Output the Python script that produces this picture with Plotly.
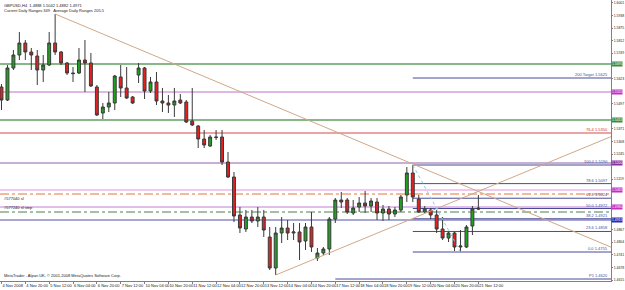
import plotly.graph_objects as go

# ---------------- data (GBPUSD H4) ----------------
bar_index = list(range(81))
open_ = [1.5580,1.5515,1.5675,1.5740,1.5800,1.5755,1.5735,1.5665,1.5690,1.5800,
         1.5755,1.5700,1.5650,1.5650,1.5715,1.5700,1.5580,1.5450,1.5480,1.5500,
         1.5630,1.5575,1.5530,1.5640,1.5675,1.5560,1.5605,1.5510,1.5500,1.5490,
         1.5515,1.5505,1.5410,1.5385,1.5320,1.5285,1.5330,1.5330,1.5205,1.5130,
         1.4940,1.4870,1.4930,1.4910,1.4930,1.4830,1.4675,1.4850,1.4875,1.4850,
         1.4855,1.4810,1.4880,1.4725,1.4750,1.4770,1.4920,1.5015,1.5015,1.4950,
         1.4980,1.5000,1.4985,1.5005,1.4950,1.4970,1.4945,1.4965,1.5040,1.5150,
         1.5020,1.4955,1.4965,1.4940,1.4870,1.4825,1.4850,1.4780,1.4780,1.4885,
         1.4975]
high = [1.5595,1.5690,1.5765,1.5855,1.5815,1.5775,1.5765,1.5740,1.5855,1.5945,
        1.5760,1.5705,1.5680,1.5775,1.5815,1.5750,1.5590,1.5500,1.5555,1.5640,
        1.5690,1.5680,1.5535,1.5700,1.5680,1.5630,1.5655,1.5575,1.5540,1.5575,
        1.5545,1.5515,1.5575,1.5390,1.5365,1.5340,1.5365,1.5365,1.5255,1.5155,
        1.4980,1.4965,1.4965,1.4980,1.4965,1.4880,1.4880,1.4930,1.4915,1.4900,
        1.4900,1.4900,1.4955,1.4775,1.4780,1.4930,1.5025,1.5055,1.5025,1.5015,
        1.5030,1.5060,1.5025,1.5025,1.4990,1.4985,1.4980,1.5040,1.5180,1.5190,
        1.5040,1.4985,1.4975,1.4965,1.4930,1.4855,1.4855,1.4865,1.4890,1.4985,
        1.5040]
low = [1.5465,1.5510,1.5665,1.5715,1.5715,1.5665,1.5590,1.5605,1.5685,1.5740,
       1.5690,1.5640,1.5605,1.5645,1.5555,1.5580,1.5435,1.5420,1.5455,1.5465,
       1.5530,1.5520,1.5495,1.5600,1.5520,1.5550,1.5490,1.5455,1.5450,1.5430,
       1.5495,1.5400,1.5385,1.5275,1.5275,1.5280,1.5315,1.5190,1.5125,1.4905,
       1.4850,1.4855,1.4900,1.4880,1.4830,1.4665,1.4640,1.4800,1.4815,1.4815,
       1.4715,1.4765,1.4755,1.4710,1.4740,1.4740,1.4900,1.4975,1.4945,1.4940,
       1.4955,1.4950,1.4955,1.4915,1.4910,1.4915,1.4930,1.4955,1.5005,1.5005,
       1.4950,1.4950,1.4920,1.4850,1.4815,1.4805,1.4760,1.4755,1.4775,1.4840,
       1.4965]
close = [1.5515,1.5675,1.5740,1.5800,1.5755,1.5740,1.5665,1.5690,1.5800,1.5755,
         1.5700,1.5650,1.5647,1.5715,1.5700,1.5585,1.5440,1.5480,1.5500,1.5635,
         1.5575,1.5525,1.5500,1.5675,1.5560,1.5605,1.5510,1.5500,1.5490,1.5510,
         1.5500,1.5405,1.5390,1.5320,1.5290,1.5330,1.5328,1.5205,1.5130,1.4935,
         1.4875,1.4930,1.4910,1.4930,1.4865,1.4675,1.4850,1.4875,1.4850,1.4855,
         1.4805,1.4880,1.4780,1.4750,1.4770,1.4920,1.5015,1.5005,1.4955,1.4975,
         1.5000,1.4985,1.5010,1.4950,1.4970,1.4945,1.4965,1.5030,1.5150,1.5030,
         1.4955,1.4970,1.4940,1.4870,1.4825,1.4850,1.4780,1.4785,1.4880,1.4970,
         1.4970]

tick_pos = list(range(0, 81, 4))
tick_text = ["4 Nov 2008","4 Nov 20:00","5 Nov 12:00","6 Nov 04:00","6 Nov 20:00",
             "7 Nov 12:00","10 Nov 04:00","10 Nov 20:00","11 Nov 12:00","12 Nov 04:00",
             "12 Nov 20:00","13 Nov 12:00","14 Nov 04:00","14 Nov 20:00","17 Nov 12:00",
             "18 Nov 04:00","18 Nov 20:00","19 Nov 12:00","20 Nov 04:00","20 Nov 20:00",
             "21 Nov 12:00"]
price_ticks_all = [round(1.4615 + k * 0.0063, 4) for k in range(23)]

# Fibonacci retracement (bar 69 high -> bar 77 low)
fib_high, fib_low = 1.5190, 1.4755
fib_levels = [100.0, 78.6, 61.8, 50.0, 38.2, 23.6, 0.0]
fib_target_pct = 200
# full-width horizontal levels: (price, colour, box)
full_levels = [(1.5695, "#5f9f5f", "#3d8c3d"), (1.5555, "#c070c8", "#c030c0"),
               (1.5415, "#5f9f5f", "#3d8c3d"), (1.5200, "#9060a8", "#8a30a0"),
               (1.5065, "#e090e0", "#c030c0"), (1.4980, "#c080d0", "#c030c0"),
               (1.4915, "#5050a8", "#2a2ab0")]
red_level = 1.5350
order_levels = [1.5045, 1.4955]
pivot_p1 = 1.4620

X0, XR = -0.25, 102.25
YR = (1.4610, 1.6015)

# axis labels hidden under the coloured price boxes are not drawn (as in the terminal)
price_ticks = [v for v in price_ticks_all
               if all(abs(v - p) > 0.0030 for p, _, _ in full_levels)]

fig = go.Figure()
fig.add_trace(go.Candlestick(
    x=bar_index, open=open_, high=high, low=low, close=close,
    increasing=dict(line=dict(color="#3a3a3a", width=1), fillcolor="#22a022"),
    decreasing=dict(line=dict(color="#3a3a3a", width=1), fillcolor="#e02222"),
    whiskerwidth=0, showlegend=False, hoverinfo="skip"))

shapes = []
ann = []
small = dict(family="Liberation Sans", size=4)
tiny = dict(family="Liberation Sans", size=3.4)

def hline(price, color, x0=None, dash="solid", width=1):
    if x0 is None:
        shapes.append(dict(type="line", xref="paper", x0=0, x1=1, yref="y", y0=price, y1=price,
                           line=dict(color=color, width=width, dash=dash), layer="below"))
    else:
        shapes.append(dict(type="line", xref="x", x0=x0, x1=XR, yref="y", y0=price, y1=price,
                           line=dict(color=color, width=width, dash=dash), layer="below"))

def box(price, bg):
    ann.append(dict(xref="paper", x=1.0, xanchor="left", yref="y", y=price, yanchor="middle",
                    text=f"{price:.4f}", showarrow=False, bgcolor=bg, borderpad=0,
                    font=dict(tiny, color="white")))

def rlabel(price, text, color):
    ann.append(dict(xref="paper", x=0.997, xanchor="right", yref="y", y=price, yanchor="bottom",
                    text=text, showarrow=False, font=dict(small, color=color), borderpad=0))

for p, c, b in full_levels:
    hline(p, c, width=1.6 if c == "#5f9f5f" else 1)
    box(p, b)

hline(red_level, "#d84848", width=1.2)
rlabel(red_level, f"76.4 {red_level:.4f}", "#d03030")

hline(order_levels[0], "#e07838", dash="dashdot")
hline(order_levels[1], "#4f7f4f", dash="dashdot")
ann.append(dict(xref="paper", x=0.003, xanchor="left", yref="y", y=order_levels[0] - 0.0020,
                yanchor="middle", text="#577040 sl", showarrow=False, font=dict(small, color="#202020")))
ann.append(dict(xref="paper", x=0.003, xanchor="left", yref="y", y=order_levels[1] + 0.0002,
                yanchor="bottom", text="#577240 sl step", showarrow=False, font=dict(small, color="#202020")))

for lv in fib_levels:
    p = fib_low + (fib_high - fib_low) * lv / 100
    hline(p, "#4a4a98", x0=69)
    rlabel(p, f"{lv:.1f} {p:.4f}", "#4a4a98")
tp = fib_low + (fib_high - fib_low) * fib_target_pct / 100
hline(tp, "#4a4a98", x0=69)
rlabel(tp, f"{fib_target_pct} Target {tp:.4f}", "#4a4a98")

hline(pivot_p1, "#4a4a98", x0=56)
rlabel(pivot_p1, f"P1 {pivot_p1:.4f}", "#4a4a98")

# trend lines
shapes.append(dict(type="line", xref="x", yref="y", x0=9, y0=high[9], x1=XR,
                   y1=high[9] - 0.00125 * (XR - 9), line=dict(color="#d0a888", width=1)))
shapes.append(dict(type="line", xref="x", yref="y", x0=46, y0=low[46], x1=XR,
                   y1=low[46] + 0.00123 * (XR - 46), line=dict(color="#d0a888", width=1)))
shapes.append(dict(type="line", xref="x", yref="y", x0=69, y0=fib_high, x1=77, y1=fib_low,
                   line=dict(color="#80d0e0", width=1, dash="dot")))

ann.append(dict(xref="paper", x=0.003, xanchor="left", yref="paper", y=0.998, yanchor="top",
                text="GBPUSD,H4  1.4888 1.5042 1.4882 1.4971<br>Current Daily Ranges 349   Average Daily Ranges 205.5",
                align="left", showarrow=False, font=dict(small, color="#202020")))
ann.append(dict(xref="paper", x=0.003, xanchor="left", yref="paper", y=0.005, yanchor="bottom",
                text="MetaTrader - Alpari UK, \u00a9 2001-2008 MetaQuotes Software Corp.",
                showarrow=False, font=dict(small, color="#202020")))

fig.update_layout(
    width=625, height=290, margin=dict(l=0, r=14, t=0, b=9, autoexpand=False),
    paper_bgcolor="white", plot_bgcolor="white",
    shapes=shapes, annotations=ann, showlegend=False,
    xaxis=dict(range=[X0, XR], tickvals=tick_pos, ticktext=tick_text, showgrid=False,
               zeroline=False, rangeslider=dict(visible=False), ticks="outside", ticklen=2,
               tickcolor="#808080", ticklabelposition="outside right", tickangle=0,
               automargin=False,
               tickfont=dict(family="Liberation Sans", size=4, color="#202020"),
               showline=True, linecolor="#808080", linewidth=1, mirror=True),
    yaxis=dict(range=list(YR), side="right", tickvals=price_ticks, automargin=False,
               ticktext=[f"{v:.4f}" for v in price_ticks], showgrid=False, zeroline=False,
               ticks="outside", ticklen=1, tickcolor="#808080",
               tickfont=dict(family="Liberation Sans", size=3.4, color="#202020"),
               showline=True, linecolor="#808080", linewidth=1, mirror=True),
)
fig.write_html("out.html")
